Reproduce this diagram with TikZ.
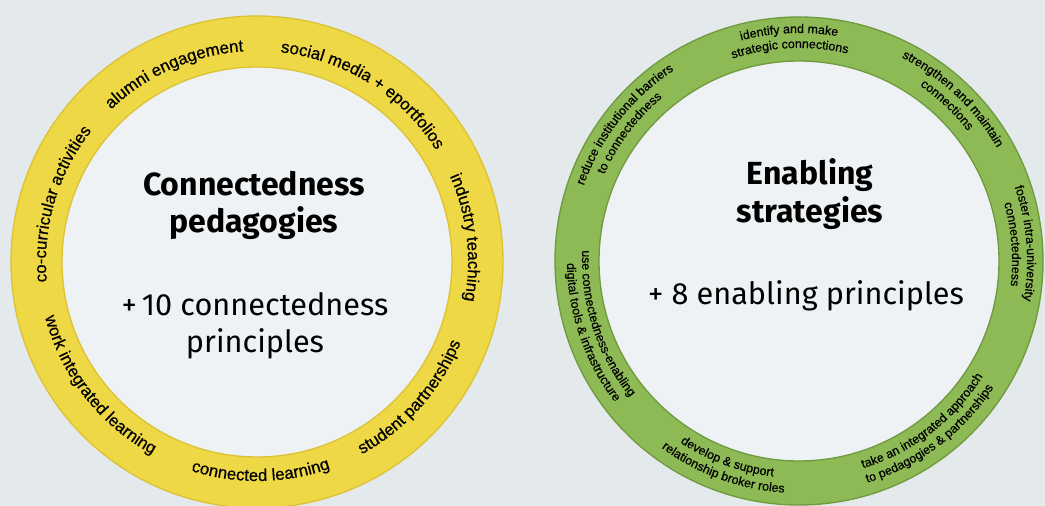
\documentclass[tikz,border=0pt]{standalone}
\usepackage{fontspec}
\setmainfont{Liberation Sans}
\newfontfamily\ringfont[FakeBold=0.5]{Liberation Sans}
\newfontfamily\titlefont{Fira Sans}
\usetikzlibrary{decorations.text}
\definecolor{bg}{HTML}{E4E9EC}
\definecolor{innerc}{HTML}{EEF2F4}
\definecolor{ringyellow}{HTML}{EFD845}
\definecolor{yedge}{HTML}{DCC236}
\definecolor{ringgreen}{HTML}{8DBA55}
\definecolor{gedge}{HTML}{6F9A3E}
\newcommand\yfont{\ringfont\fontsize{12.6}{14}\selectfont}
\newcommand\gfont{\ringfont\fontsize{9.3}{11}\selectfont}
% text read clockwise (upper arc): radius #1, mid angle #2, text #3, font #4
\newcommand\toparc[4]{\path[arctext={|#4|#3}] ([shift={(#2+60:#1)}]\ringc) arc[start angle=#2+60,end angle=#2-60,radius=#1];}
% text read counter-clockwise (lower arc)
\newcommand\botarc[4]{\path[arctext={|#4|#3}] ([shift={(#2-60:#1)}]\ringc) arc[start angle=#2-60,end angle=#2+60,radius=#1];}
\begin{document}
\begin{tikzpicture}[x=0.75pt,y=0.75pt,
  arctext/.style={decorate,decoration={text along path,text align=center,text={#1}}},
  title/.style={font=\titlefont\bfseries\fontsize{24}{28}\selectfont,align=center,inner sep=0pt},
  subtitle/.style={font=\titlefont\fontsize{23}{28}\selectfont,align=center,inner sep=0pt},
]
\useasboundingbox (0,0) rectangle (1045,506);
\clip (0,0) rectangle (1045,506);
\fill[bg] (0,0) rectangle (1045,506);
\coordinate (Y) at (257,244);
\coordinate (G) at (799,245);
% rings
\fill[innerc] (Y) circle[radius=195];
\fill[innerc] (G) circle[radius=200];
\path[fill=ringyellow,draw=yedge,line width=1,even odd rule] (Y) circle[radius=246] (Y) circle[radius=195];
\path[fill=ringgreen,draw=gedge,line width=1,even odd rule] (G) circle[radius=244] (G) circle[radius=200];
% yellow labels
\def\ringc{Y}
\toparc{211}{113.7}{alumni engagement}{\yfont}
\toparc{211}{57.8}{social media + eportfolios}{\yfont}
\toparc{211}{6.7}{industry teaching}{\yfont}
\botarc{219}{-41.5}{student partnerships}{\yfont}
\botarc{219}{-89}{connected learning}{\yfont}
\botarc{219}{218}{work integrated learning}{\yfont}
\toparc{211}{163.5}{co-curricular activities}{\yfont}
% green labels
\def\ringc{G}
\toparc{228}{92.5}{identify and make}{\gfont}
\toparc{213}{92.5}{strategic connections}{\gfont}
\toparc{228}{46.5}{strengthen and maintain}{\gfont}
\toparc{213}{46.5}{connections}{\gfont}
\toparc{228}{4.5}{foster intra-university}{\gfont}
\toparc{213}{4.5}{connectedness}{\gfont}
\botarc{217}{-52.5}{take an integrated approach}{\gfont}
\botarc{232}{-53}{to pedagogies {\&} partnerships}{\gfont}
\botarc{217}{250}{develop {\&} support}{\gfont}
\botarc{232}{250}{relationship broker roles}{\gfont}
\botarc{217}{198}{use connectedness-enabling}{\gfont}
\botarc{232}{199}{digital tools {\&} infrastructure}{\gfont}
\toparc{228}{142}{reduce institutional barriers}{\gfont}
\toparc{213}{143}{to connectedness}{\gfont}
% centre texts
\node[title] (ytitle) at (254,300.5) {Connectedness\\pedagogies};
\node[subtitle] (ysub) at (255,180) {+\,10 connectedness\\principles};
\node[title] (gtitle) at (810,312) {Enabling\\strategies};
\node[subtitle] (gsub) at (806,210) {+ 8 enabling principles};
\end{tikzpicture}
\end{document}
